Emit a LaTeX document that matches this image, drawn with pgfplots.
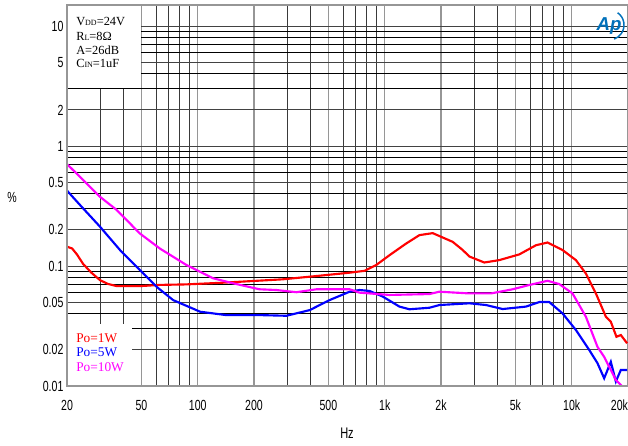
\documentclass[border=0pt]{standalone}
\usepackage{pgfplots}
\pgfplotsset{compat=1.18}
\usepackage{fontspec}
\setmainfont{Liberation Serif}
\newfontfamily\narrow[FakeStretch=0.72]{Liberation Sans}
\newfontfamily\logofont{Liberation Sans}
\definecolor{apblue}{RGB}{0,112,186}
\definecolor{gridgray}{RGB}{150,150,150}
\definecolor{griddark}{RGB}{40,40,40}
\definecolor{pmag}{RGB}{255,0,255}
\definecolor{pred}{RGB}{255,0,0}
\definecolor{pblue}{RGB}{0,0,255}

\begin{document}
\begin{tikzpicture}
\useasboundingbox (0pt,0pt) rectangle (471pt,334.5pt);
\begin{axis}[
  at={(50.25pt,45pt)}, anchor=south west,
  width=420.75pt, height=285.8pt, scale only axis,
  xmode=log, ymode=log,
  xmin=20, xmax=20000, ymin=0.01, ymax=15,
  xtick={20,50,100,200,500,1000,2000,5000,10000,20000},
  xticklabels={20,50,100,200,500,1k,2k,5k,10k,\llap{20k}},
  minor xtick={30,40,60,70,80,90,300,400,600,700,800,900,3000,4000,6000,7000,8000,9000},
  ytick={0.01,0.02,0.05,0.1,0.2,0.5,1,2,5,10},
  yticklabels={0.01,0.02,0.05,0.1,0.2,0.5,1,2,5,10},
  minor ytick={0.03,0.04,0.06,0.07,0.08,0.09,0.3,0.4,0.6,0.7,0.8,0.9,3,4,6,7,8,9},
  grid=both,
  major x grid style={gridgray, line width=0.8pt},
  minor x grid style={griddark!80!gray, line width=0.6pt},
  major y grid style={griddark!70!gray, line width=0.7pt},
  minor y grid style={black, line width=0.6pt},
  axis line style={gridgray, line width=1pt},
  tick style={draw=none},
  ticklabel style={font=\narrow\fontsize{11}{11}\selectfont, text=black},
  yticklabel style={anchor=east, inner sep=0pt, xshift=-2.5pt},
  xticklabel style={anchor=north, inner sep=0pt, yshift=-10.5pt},
  clip=true,
]
\fill[white] (axis cs:20,3.06) rectangle (axis cs:49.6,15);
\fill[white] (axis cs:20,0.01) rectangle (axis cs:44.4,0.033);

% Po=1W
\addplot[pred, line width=1.6pt] coordinates {
(20,0.145) (21.3,0.14) (22.6,0.125) (24.4,0.104) (27,0.088) (30,0.0764) (33,0.071) (36.9,0.068) (49,0.068)
(62.7,0.0696) (87,0.0703) (136,0.0726) (197,0.075) (285,0.0775) (431,0.0825)
(649,0.088) (780,0.0912) (901,0.102) (1060,0.123) (1302,0.154) (1534,0.181)
(1806,0.188) (2310,0.159) (2612,0.136) (2836,0.120) (3410,0.107) (4100,0.112)
(5243,0.125) (6438,0.149) (7426,0.157) (8928,0.136) (10526,0.112) (11904,0.0866)
(13464,0.0591) (15226,0.0378) (16188,0.0343) (17346,0.0257) (18306,0.0266) (19780,0.0227)
};
% Po=5W
\addplot[pblue, line width=1.6pt] coordinates {
(20,0.425) (23.5,0.322) (30,0.213) (38.4,0.136) (49,0.0928) (60.2,0.0672)
(73.9,0.052) (103,0.0416) (142,0.039) (214,0.039) (298,0.0385) (397,0.0429)
(507,0.052) (649,0.0611) (733,0.0631) (829,0.062) (977,0.0556) (1199,0.0459)
(1356,0.0436) (1734,0.0449) (1960,0.0473) (2836,0.0489) (3482,0.0473) (4270,0.0438)
(5694,0.0459) (6706,0.0501) (7584,0.0501) (8928,0.0403) (10526,0.0293) (12398,0.020)
(13734,0.0155) (14910,0.0116) (16188,0.0159) (17218,0.0109) (18306,0.0136) (19780,0.0136)
};
% Po=10W
\addplot[pmag, line width=1.6pt] coordinates {
(20,0.708) (30,0.378) (36.9,0.293) (49,0.187) (62.7,0.140) (87,0.102) (121,0.079)
(154.5,0.0718) (214,0.064) (263,0.0631) (337,0.0605) (431,0.064) (649,0.064)
(733,0.060) (1060,0.0574) (1734,0.0584) (1960,0.0611) (2836,0.0591) (3702,0.0591)
(4828,0.064) (5930,0.0695) (7426,0.0753) (8574,0.0708) (10100,0.0591) (11904,0.0378)
(13734,0.0212) (14910,0.0175) (16188,0.0136) (17218,0.0112) (18670,0.0099)
};
\draw[gridgray, line width=1pt] (rel axis cs:1,1) -- (rel axis cs:0,1) -- (rel axis cs:0,0) -- (rel axis cs:1,0);
\end{axis}

\begin{scope}[x=0.75pt,y=0.75pt]
% condition box
\begin{scope}[font=\fontsize{9.3}{9.3}\selectfont]
\node[anchor=base west, inner sep=0pt] at (76,420) {V{\fontsize{6}{6}\selectfont DD}=24V};
\node[anchor=base west, inner sep=0pt] at (76,405.3) {R{\fontsize{6}{6}\selectfont L}=8Ω};
\node[anchor=base west, inner sep=0pt] at (76,391.7) {A=26dB};
\node[anchor=base west, inner sep=0pt] at (76,378) {C{\fontsize{6}{6}\selectfont IN}=1uF};
\end{scope}

% legend
\begin{scope}[font=\fontsize{10}{10}\selectfont]
\node[anchor=base west, inner sep=0pt, text=pred] at (76,103.3) {Po=1W};
\node[anchor=base west, inner sep=0pt, text=pblue] at (76,89) {Po=5W};
\node[anchor=base west, inner sep=0pt, text=pmag] at (76,74.3) {Po=10W};
\end{scope}

% axis labels
\node[font=\narrow\fontsize{11}{11}\selectfont] at (12,249) {\%};
\node[font=\narrow\fontsize{11.5}{11.5}\selectfont] at (347,13) {Hz};

% logo
\node[text=apblue, font=\logofont\bfseries\itshape\fontsize{14}{14}\selectfont, inner sep=0pt] at (609,420) {Ap};
\draw[apblue, line width=1.1pt] (609,421) ++(55:15) arc (55:-70:15);
\end{scope}
\end{tikzpicture}
\end{document}
